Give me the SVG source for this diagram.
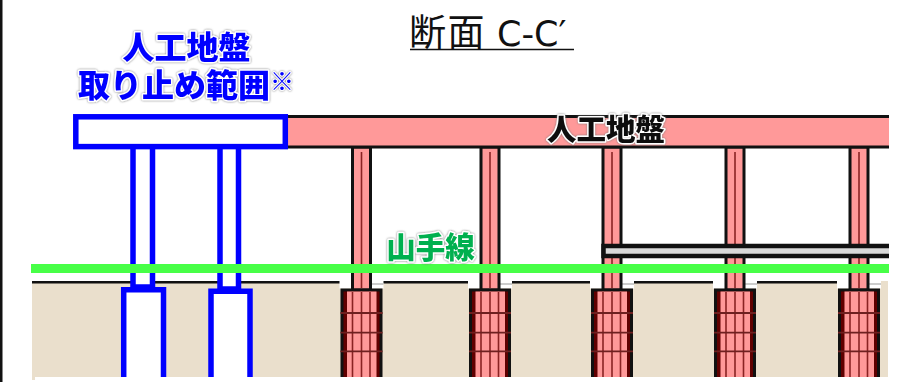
<svg xmlns="http://www.w3.org/2000/svg" width="898" height="382" viewBox="0 0 898 382">
<style>
.lab{font-family:"Noto Sans CJK JP","Liberation Sans",sans-serif;font-weight:900;paint-order:stroke;stroke:#fff;stroke-width:3px;stroke-linejoin:round;filter:url(#halo)}
.pink{fill:#FF9999;stroke:#111;stroke-width:3}
.blue{fill:#fff;stroke:#0000FF;stroke-width:5.5}
.dk{stroke:#8a2323;stroke-width:1.6;fill:none}
.tie{stroke:#6e2020;stroke-width:1.8;fill:none}
</style>
<defs>
<filter id="halo" x="-10%" y="-20%" width="120%" height="140%"><feDropShadow dx="0" dy="0" stdDeviation="1.3" flood-color="#777"/></filter>
<g id="pier">
<rect x="-1" y="280" width="44" height="8.5" fill="#fff"/>
<path d="M31 284H43" stroke="#bbb" stroke-width="1.5"/>
<rect class="pink" x="12" y="147" width="18" height="143"/>
<path class="dk" d="M21 152V288"/>
<path d="M1.5 377V290H40.5V377" fill="#600000" stroke="#111" stroke-width="3"/>
<rect x="6.5" y="291.5" width="29.5" height="85.5" fill="#FF9999"/>
<path class="dk" d="M12 292V377M21 292V377M29.5 292V377"/>
<path class="tie" d="M0 313H42M0 332.7H42M0 351.3H42"/>
</g>
</defs>
<rect width="898" height="382" fill="#fff"/>
<rect x="0" y="0" width="2.5" height="382" fill="#111"/>
<g id="ground">
<rect x="32" y="283" width="856" height="94" fill="#EADFCC"/>
<rect x="32" y="377" width="3" height="3" fill="#EADFCC"/>
<rect x="881" y="281" width="7" height="3" fill="#EADFCC"/>
<path d="M32 282.2H881" stroke="#111" stroke-width="2.5"/>
</g>
<g id="removal-structure">
<rect class="blue" x="133" y="146" width="19.5" height="141"/>
<rect class="blue" x="220" y="146" width="18.5" height="143"/>
<path class="blue" d="M123.7 377V289.7H163.5V377"/>
<path class="blue" d="M211 377V291.3H250V377"/>
</g>
<g id="piers">
<use href="#pier" x="340.5"/>
<use href="#pier" x="469"/>
<use href="#pier" x="591"/>
<use href="#pier" x="714"/>
<use href="#pier" x="838"/>
</g>
<g id="deck">
<rect class="pink" x="286" y="116.5" width="610" height="30.5"/>
<rect x="75.8" y="116.8" width="209.5" height="29.8" class="blue"/>
</g>
<g id="platform">
<path d="M896 246H603.5V256H896" fill="#d9d9d9" stroke="#111" stroke-width="4.5"/>
</g>
<rect x="889" y="110" width="9" height="155" fill="#fff"/>
<rect id="yamanote-line" x="31" y="264" width="858" height="9" fill="#47FF47"/>
<text y="46" font-family="'DejaVu Sans','Noto Sans CJK JP',sans-serif" fill="#111"><tspan x="409" font-size="37" letter-spacing="1.5">断面</tspan><tspan x="497" font-size="35">C-C′</tspan></text>
<path d="M410 49.5H574" stroke="#111" stroke-width="1.5"/>
<g id="label-removal" fill="#0000FF">
<text class="lab" x="186.5" y="59" font-size="32" text-anchor="middle">人工地盤</text>
<text class="lab" x="78" y="96.5" font-size="32">取り止め範囲</text>
<text class="lab" x="270" y="90" font-size="24" style="stroke-width:2px">※</text>
</g>
<text class="lab" x="606" y="140" font-size="29.5" text-anchor="middle" fill="#111">人工地盤</text>
<text class="lab" x="430.5" y="258" font-size="29.5" text-anchor="middle" fill="#00B050">山手線</text>
</svg>
